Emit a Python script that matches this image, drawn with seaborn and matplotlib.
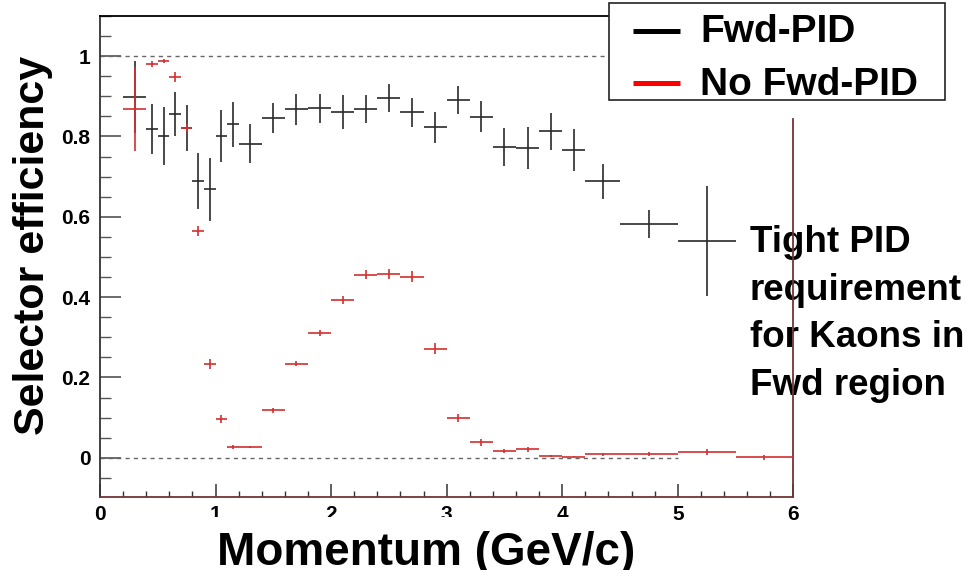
import numpy as np
import pandas as pd
import matplotlib
matplotlib.use("Agg")
import matplotlib.pyplot as plt
from matplotlib.lines import Line2D
from matplotlib.patches import Rectangle
from matplotlib.ticker import MultipleLocator
import seaborn as sns

# ---- data -------------------------------------------------------------
# momentum bins (GeV/c): centres and half widths
bin_center = [0.3, 0.45, 0.55, 0.65, 0.75, 0.85, 0.95, 1.05, 1.15,
              1.3, 1.5, 1.7, 1.9, 2.1, 2.3, 2.5, 2.7, 2.9, 3.1, 3.3,
              3.5, 3.7, 3.9, 4.1, 4.35, 4.75, 5.25, 5.75]
bin_halfwidth = [0.1, 0.05, 0.05, 0.05, 0.05, 0.05, 0.05, 0.05, 0.05,
                 0.1, 0.1, 0.1, 0.1, 0.1, 0.1, 0.1, 0.1, 0.1, 0.1, 0.1,
                 0.1, 0.1, 0.1, 0.1, 0.15, 0.25, 0.25, 0.25]

# selector efficiency with forward PID (no entry in the last bin)
eff_fwd = [0.899, 0.818, 0.801, 0.855, 0.822, 0.690, 0.668, 0.801, 0.830,
           0.782, 0.846, 0.868, 0.870, 0.861, 0.868, 0.895, 0.860, 0.823,
           0.890, 0.849, 0.773, 0.771, 0.813, 0.766, 0.688, 0.581, 0.539,
           np.nan]
err_fwd = [0.090, 0.062, 0.073, 0.055, 0.057, 0.070, 0.079, 0.064, 0.055,
           0.049, 0.038, 0.039, 0.037, 0.042, 0.035, 0.035, 0.036, 0.038,
           0.035, 0.039, 0.047, 0.052, 0.046, 0.052, 0.043, 0.035, 0.137,
           np.nan]

# selector efficiency without forward PID
eff_nofwd = [0.868, 0.981, 0.988, 0.948, 0.822, 0.564, 0.234, 0.097, 0.027,
             0.027, 0.118, 0.234, 0.311, 0.393, 0.456, 0.458, 0.451, 0.272,
             0.100, 0.038, 0.016, 0.021, 0.005, 0.003, 0.009, 0.010, 0.014,
             0.001]
err_nofwd = [0.105, 0.008, 0.006, 0.012, 0.010, 0.012, 0.012, 0.010, 0.004,
             0.003, 0.006, 0.006, 0.008, 0.010, 0.012, 0.012, 0.014, 0.014,
             0.010, 0.008, 0.005, 0.006, 0.003, 0.002, 0.004, 0.005, 0.007,
             0.007]

series_labels = ["Fwd-PID", "No Fwd-PID"]
x_ticks = [0, 1, 2, 3, 4, 5, 6]
y_ticks = [0, 0.2, 0.4, 0.6, 0.8, 1]
y_ticklabels = ["0", "0.2", "0.4", "0.6", "0.8", "1"]

df = pd.concat([
    pd.DataFrame({"p": bin_center, "dp": bin_halfwidth, "eff": eff_fwd,
                  "err": err_fwd, "sel": series_labels[0]}),
    pd.DataFrame({"p": bin_center, "dp": bin_halfwidth, "eff": eff_nofwd,
                  "err": err_nofwd, "sel": series_labels[1]}),
]).dropna()

# ---- style ------------------------------------------------------------
sns.set_theme(style="ticks")
plt.rcParams["font.family"] = ["Liberation Sans", "DejaVu Sans"]
plt.rcParams["font.weight"] = "bold"
for key in ["text.color", "axes.labelcolor", "xtick.labelcolor",
            "ytick.labelcolor"]:
    plt.rcParams[key] = "black"

colors = {series_labels[0]: "#2a2a2a", series_labels[1]: "#d32f2f"}
frame_red = "#6e3535"

fig = plt.figure(figsize=(9.7, 5.7), dpi=100)
ax = fig.add_axes([0.10309, 0.1286, 0.71474, 0.8433])

# reference lines at 0 and 1
ax.hlines([0, 1], 0, 5, colors="#666666", linestyles=(0, (3, 3)),
          linewidth=1.0, zorder=1)

# histogram-style error crosses
for sel in series_labels:
    d = df[df["sel"] == sel]
    ax.errorbar(d["p"], d["eff"], xerr=d["dp"], yerr=d["err"], fmt="none",
                ecolor=colors[sel], elinewidth=1.2, capsize=0, zorder=3)

ax.set_xlim(0, 6)
ax.set_ylim(-0.097, 1.1)

ax.set_xticks(x_ticks)
ax.set_xticklabels([str(t) for t in x_ticks])
ax.set_yticks(y_ticks)
ax.set_yticklabels(y_ticklabels)
ax.xaxis.set_minor_locator(MultipleLocator(0.2))
ax.yaxis.set_minor_locator(MultipleLocator(0.05))

ax.tick_params(axis="y", which="major", direction="in", length=15,
               width=1.1, color="#444444", pad=7, labelsize=15,
               labelcolor="black")
ax.tick_params(axis="y", which="minor", direction="in", length=8,
               width=1.0, color="#555555")
ax.tick_params(axis="x", which="major", direction="in", length=9.5,
               width=1.1, color="#333333", pad=6, labelsize=15,
               labelcolor="black")
ax.tick_params(axis="x", which="minor", direction="in", length=4.5,
               width=1.0, color="#333333")
for lab in ax.get_xticklabels() + ax.get_yticklabels():
    lab.set_fontweight("bold")

ax.spines["left"].set_color("#333333")
ax.spines["top"].set_color("black")
ax.spines["bottom"].set_color(frame_red)
ax.spines["right"].set_color(frame_red)
for s in ax.spines.values():
    s.set_linewidth(1.3)
ax.spines["right"].set_bounds(-0.097, 0.843)

# axis titles
fig.text(0.034, 0.570, "Selector efficiency", rotation=90, ha="center",
         va="center", fontsize=31, fontweight="bold", color="black")
fig.text(0.4397, 0.0088, "Momentum (GeV/c)", ha="center", va="baseline",
         fontsize=33, fontweight="bold", color="black",
         bbox=dict(boxstyle="square,pad=0.3", facecolor="white",
                   edgecolor="none"))

# side note, drawn beneath the frame line
ax.text(0.773, 1 - 395 / 570, "Tight PID\nrequirement\nfor Kaons in\nFwd region",
        transform=fig.transFigure, ha="left", va="baseline", fontsize=26.5,
        fontweight="bold", color="black", linespacing=1.47, zorder=1,
        clip_on=False)

# legend box
fig.add_artist(Rectangle((609 / 970, 1 - 100 / 570), 336 / 970, 97 / 570,
                         transform=fig.transFigure, facecolor="white",
                         edgecolor="#222222", linewidth=1.2, zorder=5))
legend_rows = [(31, 42), (82.5, 95)]
for sel, (yl, yb) in zip(series_labels, legend_rows):
    swatch = "black" if sel == series_labels[0] else "#ff0000"
    fig.add_artist(Line2D([633 / 970, 680 / 970], [1 - yl / 570] * 2,
                          transform=fig.transFigure, color=swatch,
                          linewidth=3.6, solid_capstyle="butt", zorder=6))
    fig.text(700 / 970, 1 - yb / 570, sel, ha="left", va="baseline",
             fontsize=28, fontweight="bold", color="black", zorder=6)

fig.savefig("out.png", dpi=100)
